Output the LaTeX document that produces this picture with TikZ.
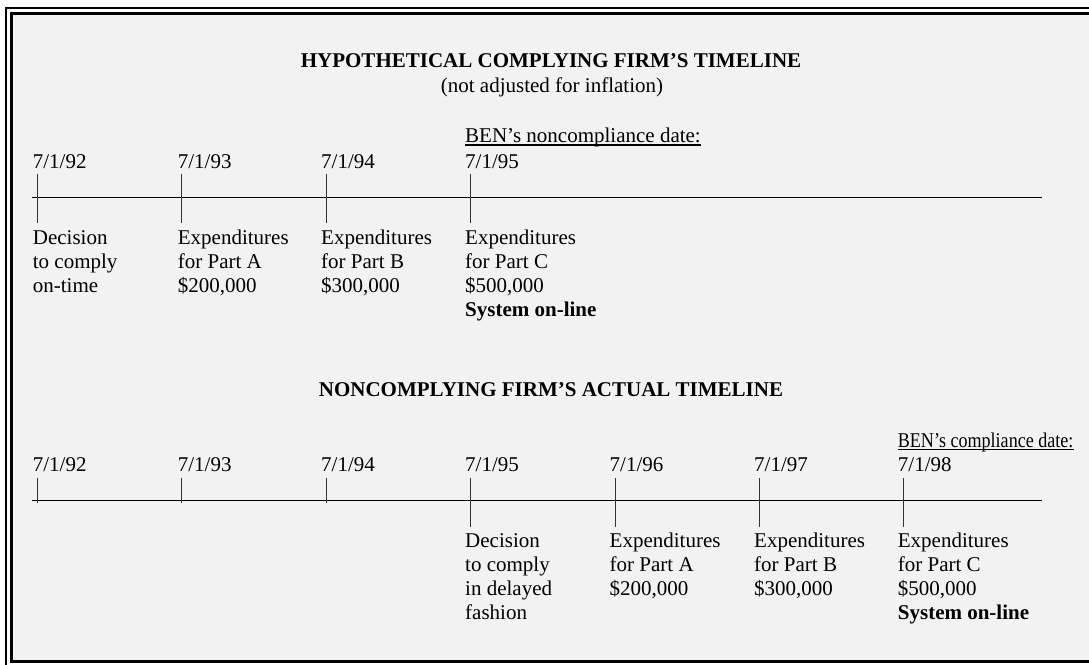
\documentclass[tikz,border=0pt]{standalone}
\usepackage{fontspec}
\setmainfont{Liberation Serif}
\usepackage{graphicx}
\definecolor{panel}{HTML}{F2F2F2}
\definecolor{tickc}{HTML}{333333}
\newcommand\Lstack[1]{\vtop{\baselineskip=24pt\lineskiplimit=-20pt #1}}
\newcommand\Lrow[1]{\hbox{#1}}
\begin{document}
\begin{tikzpicture}[x=1pt,y=-1pt,
 txt/.style={inner sep=0pt, anchor=base west, font=\fontsize{21}{24}\selectfont},
 ttl/.style={inner sep=0pt, anchor=base, font=\fontsize{21}{24}\selectfont\bfseries},
 tickline/.style={draw=tickc, line width=1.1pt},
 axis/.style={draw=black, line width=1.3pt},
 uline/.style={draw=black, line width=1.2pt}]
\useasboundingbox (0,0) rectangle (1089,664);
\fill[white] (0,0) rectangle (1089,664);
\begin{scope}
\clip (0,0) rectangle (1089,664);
\draw[line width=2.5pt] (6.2,8.2) rectangle (1110,700);
\filldraw[fill=panel, line width=3.2pt] (11.6,13.6) rectangle (1105,661.8);
\end{scope}

% ---------- top timeline ----------
\node[ttl] (title1) at (551,67) {HYPOTHETICAL COMPLYING FIRM’S TIMELINE};
\node[txt, anchor=base] (sub1) at (552,92) {(not adjusted for inflation)};
\node[txt] (ben1) at (465,142) {BEN’s noncompliance date:};
\draw[uline] ([yshift=-3pt]ben1.base west) -- ([yshift=-3pt]ben1.base east);

\node[txt] (da1) at (32.7,168) {7/1/92};
\node[txt] (da2) at (177.7,168) {7/1/93};
\node[txt] (da3) at (321,168) {7/1/94};
\node[txt] (da4) at (465,168) {7/1/95};

\coordinate (axAs) at (32,197.3);
\coordinate (axAe) at (1042,197.3);
\draw[axis] (axAs) -- (axAe);

\foreach \i/\x in {1/37.3,2/181.9,3/326.4,4/470.8}{
  \coordinate (tA\i t) at (\x,174);
  \coordinate (tA\i b) at (\x,223);
  \draw[tickline] (tA\i t) -- (tA\i b);
}

\node[txt] (la1) at (32.7,244) {\Lstack{\Lrow{Decision}\Lrow{to comply}\Lrow{on-time}}};
\node[txt] (la2) at (177.7,244) {\Lstack{\Lrow{Expenditures}\Lrow{for Part A}\Lrow{\$200,000}}};
\node[txt] (la3) at (321,244) {\Lstack{\Lrow{Expenditures}\Lrow{for Part B}\Lrow{\$300,000}}};
\node[txt] (la4) at (465,244) {\Lstack{\Lrow{Expenditures}\Lrow{for Part C}\Lrow{\$500,000}\Lrow{\bfseries System on-line}}};

% ---------- bottom timeline ----------
\node[ttl] (title2) at (551,396) {NONCOMPLYING FIRM’S ACTUAL TIMELINE};
\node[txt] (ben2) at (897.7,447) {\scalebox{0.86}[1]{BEN’s compliance date:}};
\draw[uline] ([yshift=-2.5pt]ben2.base west) -- ([yshift=-2.5pt]ben2.base east);

\node[txt] (db1) at (32.7,471) {7/1/92};
\node[txt] (db2) at (177.7,471) {7/1/93};
\node[txt] (db3) at (321,471) {7/1/94};
\node[txt] (db4) at (465,471) {7/1/95};
\node[txt] (db5) at (609.5,471) {7/1/96};
\node[txt] (db6) at (754,471) {7/1/97};
\node[txt] (db7) at (897.7,471) {7/1/98};

\coordinate (axBs) at (32,500.3);
\coordinate (axBe) at (1042,500.3);
\draw[axis] (axBs) -- (axBe);

\foreach \i/\x in {1/37.3,2/181.9,3/326.4}{
  \coordinate (tB\i t) at (\x,478);
  \coordinate (tB\i b) at (\x,502.5);
  \draw[tickline] (tB\i t) -- (tB\i b);
}
\foreach \i/\x in {4/470.8,5/615.2,6/759.6,7/903.5}{
  \coordinate (tB\i t) at (\x,478);
  \coordinate (tB\i b) at (\x,527);
  \draw[tickline] (tB\i t) -- (tB\i b);
}

\node[txt] (lb4) at (465,547) {\Lstack{\Lrow{Decision}\Lrow{to comply}\Lrow{in delayed}\Lrow{fashion}}};
\node[txt] (lb5) at (609.5,547) {\Lstack{\Lrow{Expenditures}\Lrow{for Part A}\Lrow{\$200,000}}};
\node[txt] (lb6) at (754,547) {\Lstack{\Lrow{Expenditures}\Lrow{for Part B}\Lrow{\$300,000}}};
\node[txt] (lb7) at (897.7,547) {\Lstack{\Lrow{Expenditures}\Lrow{for Part C}\Lrow{\$500,000}\Lrow{\bfseries System on-line}}};
\end{tikzpicture}
\end{document}
